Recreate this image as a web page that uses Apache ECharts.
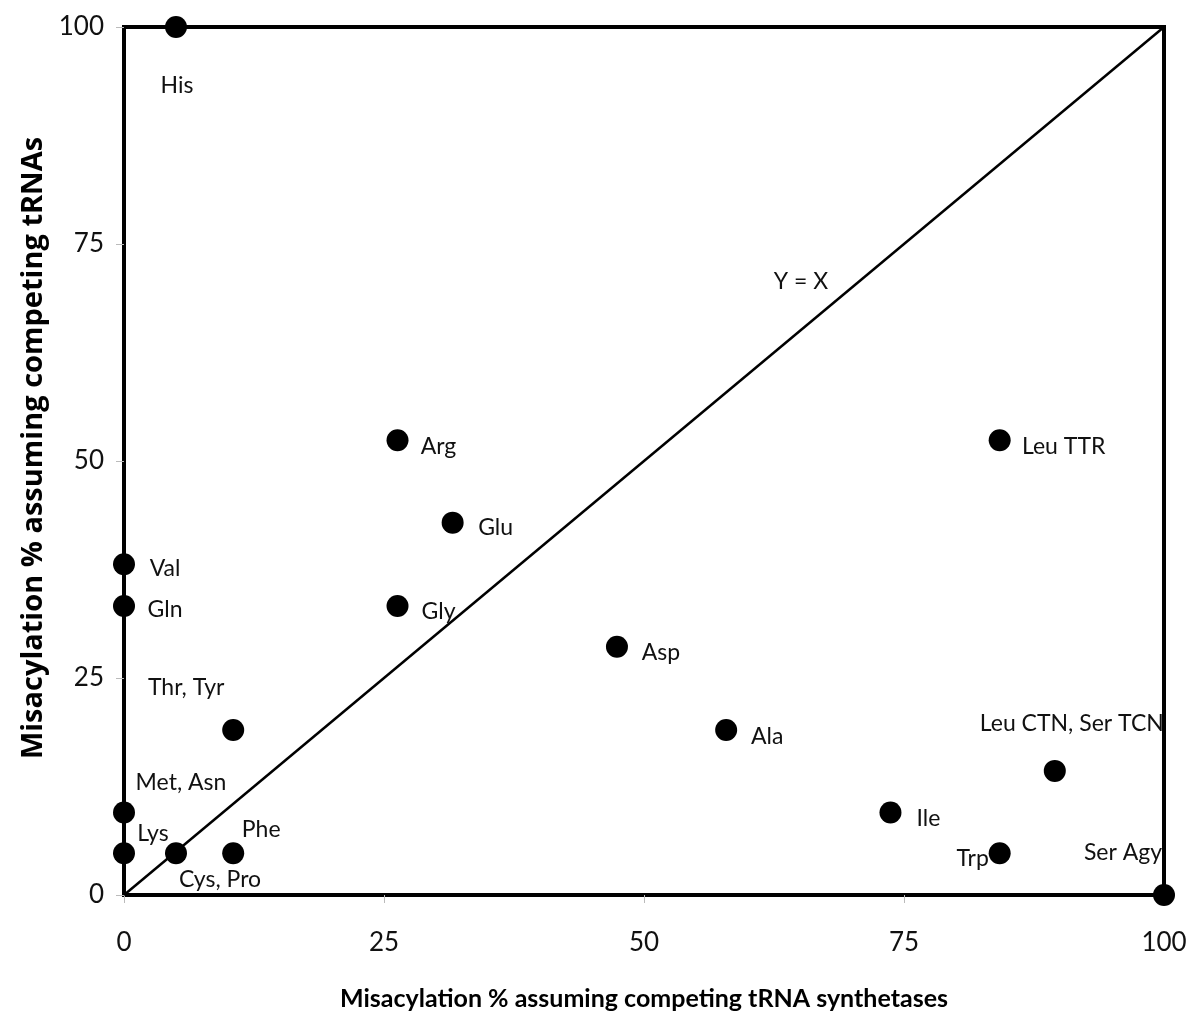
<!DOCTYPE html>
<html><head><meta charset="utf-8">
<script src="https://cdn.jsdelivr.net/npm/echarts@6/dist/echarts.min.js"></script>
<style>html,body{margin:0;padding:0;background:#fff}#c{width:1200px;height:1022px}</style>
</head><body><div id="c"></div>
<script>
// Data
const names = ['His','Arg','Glu','Val','Gln','Gly','Asp','Thr, Tyr','Ala','Leu TTR','Leu CTN, Ser TCN','Met, Asn','Ile','Lys','Cys, Pro','Phe','Trp','Ser Agy'];
const xValues = [5.0, 26.3, 31.6, 0, 0, 26.3, 47.4, 10.5, 57.9, 84.2, 89.5, 0, 73.7, 0, 5.0, 10.5, 84.2, 100];
const yValues = [100, 52.4, 42.9, 38.1, 33.3, 33.3, 28.6, 19.0, 19.0, 52.4, 14.3, 9.5, 9.5, 4.8, 4.8, 4.8, 4.8, 0];
const xTicks = [0, 25, 50, 75, 100];
const yTicks = [0, 25, 50, 75, 100];
const identityLine = [[0, 0], [100, 100]];
const identityLabel = 'Y = X';
const xTitle = 'Misacylation % assuming competing tRNA synthetases';
const yTitle = 'Misacylation % assuming competing tRNAs';

// label placement (style)
const labelOffsets = {
  'His': [1, 59], 'Arg': [41, 6], 'Glu': [43, 5], 'Val': [41, 4], 'Gln': [41, 4],
  'Gly': [41, 6], 'Asp': [44, 6], 'Thr, Tyr': [-47, -43], 'Ala': [41, 6],
  'Leu TTR': [64, 6], 'Leu CTN, Ser TCN': [17, -47], 'Met, Asn': [57, -30],
  'Ile': [38, 6], 'Lys': [29, -20], 'Cys, Pro': [44, 26], 'Phe': [28, -24],
  'Trp': [-27, 5], 'Ser Agy': [-41, -42]
};

const FONT = 'Lato';
const pts = names.map((n, i) => ({
  name: n, value: [xValues[i], yValues[i]],
  label: { show: true, position: 'inside', offset: labelOffsets[n], formatter: n,
           color: '#111', fontSize: 23, fontFamily: FONT }
}));

const chart = echarts.init(document.getElementById('c'));
chart.setOption({
  animation: false,
  backgroundColor: '#fff',
  grid: { left: 124, right: 36, top: 27, bottom: 127, containLabel: false, outerBoundsMode: 'none',
          show: true, borderColor: '#000', borderWidth: 4 },
  xAxis: {
    type: 'value', min: 0, max: 100, interval: 25,
    name: xTitle, nameLocation: 'middle', nameGap: 91,
    nameTextStyle: { fontFamily: FONT, fontWeight: 'bold', fontSize: 25, color: '#000' },
    axisLine: { show: true, lineStyle: { color: '#000', width: 4 } },
    axisTick: { show: true, length: 8, lineStyle: { color: '#bbb' } },
    axisLabel: { fontFamily: FONT, fontSize: 26, color: '#111', margin: 35,
                 formatter: v => xTicks.includes(v) ? String(v) : '' },
    splitLine: { show: false }
  },
  yAxis: {
    type: 'value', min: 0, max: 100, interval: 25,
    name: yTitle, nameLocation: 'middle', nameGap: 73, nameRotate: 90,
    nameTextStyle: { fontFamily: 'Open Sans', fontWeight: 'bold', fontSize: 29, color: '#000',
                     padding: [0, 0, 0, 26] },
    axisLine: { show: true, lineStyle: { color: '#000', width: 4 } },
    axisTick: { show: true, length: 8, lineStyle: { color: '#bbb' } },
    axisLabel: { fontFamily: FONT, fontSize: 26, color: '#111', margin: 20,
                 formatter: v => yTicks.includes(v) ? String(v) : '' },
    splitLine: { show: false }
  },
  series: [
    {
      type: 'line', data: identityLine, symbol: 'none', silent: true,
      lineStyle: { color: '#000', width: 2.5 },
      markPoint: {
        symbol: 'circle', symbolSize: 0,
        data: [{ coord: [65.1, 70.7], value: identityLabel }],
        label: { show: true, position: 'inside', formatter: identityLabel, color: '#111', fontSize: 23, fontFamily: FONT }
      },
      z: 1
    },
    {
      type: 'scatter', data: pts, symbol: 'circle', symbolSize: 22,
      itemStyle: { color: '#000', opacity: 1 }, clip: false, z: 3
    }
  ]
});
</script></body></html>
